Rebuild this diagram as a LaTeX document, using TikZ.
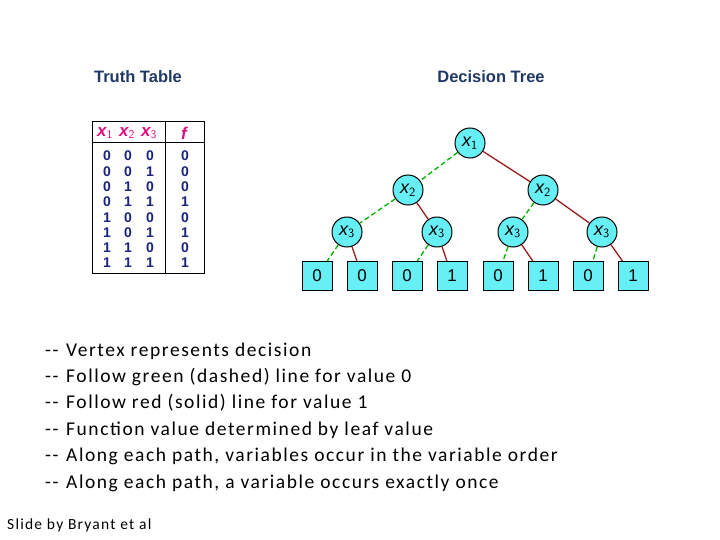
\documentclass[tikz,border=0pt]{standalone}
\usepackage{fontspec}
\setmainfont{Carlito}
\newfontfamily\arial{Liberation Sans}
\newfontfamily\bulfont[LetterSpace=8]{Carlito}
\begin{document}
\begin{tikzpicture}[x=1pt,y=-1pt,
  title/.style={font=\arial\bfseries\fontsize{16.5}{18}\selectfont,text=titleblue},
  tv/.style={font=\arial\bfseries\fontsize{14}{16}\selectfont,text=navy,inner sep=0},
  th/.style={font=\arial\bfseries\itshape\fontsize{17}{19}\selectfont,text=magenta!80!purple,inner sep=0},
  vtx/.style={circle,draw=black,line width=1pt,fill=cyanf,minimum size=30pt,inner sep=0,font=\arial\itshape\fontsize{18}{20}\selectfont},
  leaf/.style={rectangle,draw=black,line width=1pt,fill=cyanf,minimum width=30pt,minimum height=29pt,inner sep=0,font=\arial\fontsize{17}{19}\selectfont},
  zero/.style={draw=green!70!black,line width=1.3pt,dash pattern=on 5pt off 3pt},
  one/.style={draw=redb,line width=1.3pt},
  bul/.style={anchor=base west,font=\bulfont\fontsize{19.5}{22}\selectfont,inner sep=0}]
\definecolor{titleblue}{HTML}{1F3864}
\definecolor{navy}{HTML}{1A237E}
\definecolor{cyanf}{HTML}{66F0F5}
\definecolor{redb}{HTML}{9B1C1C}
\useasboundingbox (0,0) rectangle (720,540);
\node[title] (tt) at (138,77) {Truth Table};
\node[title] (dt) at (491,77) {Decision Tree};
% table
\draw[line width=1pt] (92,122) rectangle (204,273);
\draw[line width=1pt] (165,122) -- (165,273);
\draw[line width=1pt] (92,143) -- (204,143);
\node[th] (h1) at (105,133) {x$_\mathsf{1}$};
\node[th] (h2) at (127,133) {x$_\mathsf{2}$};
\node[th] (h3) at (149,133) {x$_\mathsf{3}$};
\node[th] (hf) at (184,133) {f};
\foreach \a/\b/\c/\f [count=\i from 0] in {0/0/0/0,0/0/1/0,0/1/0/0,0/1/1/1,1/0/0/0,1/0/1/1,1/1/0/0,1/1/1/1}{
  \node[tv] (a\i) at (107,156+15.3*\i) {\a};
  \node[tv] (b\i) at (128,156+15.3*\i) {\b};
  \node[tv] (c\i) at (150,156+15.3*\i) {\c};
  \node[tv] (f\i) at (185,156+15.3*\i) {\f};
}
% tree
\node[vtx] (r) at (470,143) {x$_\mathsf{1}$};
\node[vtx] (l) at (408,190) {x$_\mathsf{2}$};
\node[vtx] (rr) at (543,190) {x$_\mathsf{2}$};
\node[vtx] (n1) at (347,232) {x$_\mathsf{3}$};
\node[vtx] (n2) at (437,232) {x$_\mathsf{3}$};
\node[vtx] (n3) at (513,232) {x$_\mathsf{3}$};
\node[vtx] (n4) at (602,232) {x$_\mathsf{3}$};
\foreach \x/\v [count=\i] in {317/0,362/0,407/0,452/1,498/0,543/1,588/0,633/1}
  \node[leaf] (L\i) at (\x,276) {\v};
\draw[zero] (r) -- (l); \draw[one] (r) -- (rr);
\draw[zero] (l) -- (n1); \draw[one] (l) -- (n2);
\draw[zero] (rr) -- (n3); \draw[one] (rr) -- (n4);
\draw[zero] (n1) -- (L1); \draw[one] (n1) -- (L2);
\draw[zero] (n2) -- (L3); \draw[one] (n2) -- (L4);
\draw[zero] (n3) -- (L5); \draw[one] (n3) -- (L6);
\draw[zero] (n4) -- (L7); \draw[one] (n4) -- (L8);
% bullets
\foreach \t [count=\i from 0] in {Vertex represents decision,Follow green (dashed) line for value 0,Follow red (solid) line for value 1,Function value determined by leaf value,{Along each path, variables occur in the variable order},{Along each path, a variable occurs exactly once}}{
  \node[bul] (d\i) at (45,356+26.4*\i) {--};
  \node[bul] (t\i) at (66,356+26.4*\i) {\t};
}
\node[anchor=base west,font=\bulfont\fontsize{15.5}{17}\selectfont,inner sep=0] (cr) at (7,529) {Slide by Bryant et al};
\end{tikzpicture}
\end{document}
